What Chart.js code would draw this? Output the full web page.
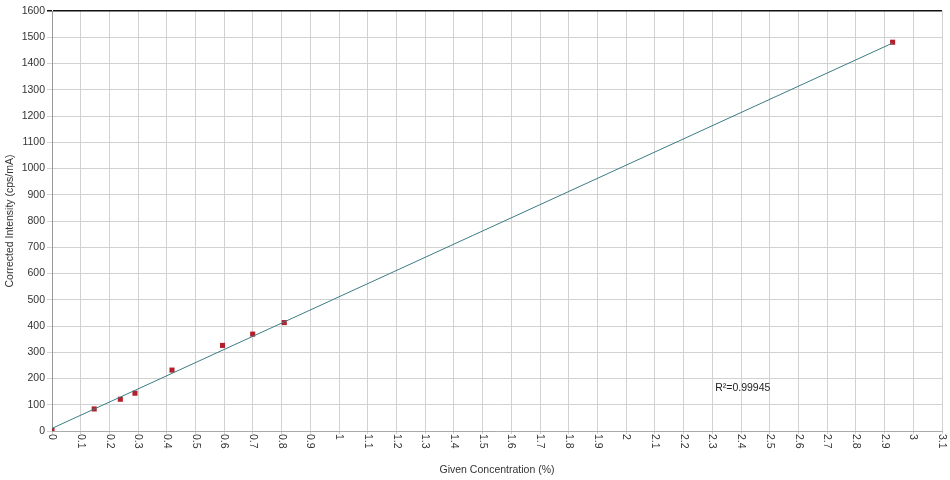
<!DOCTYPE html>
<html>
<head>
<meta charset="utf-8">
<script src="https://cdn.jsdelivr.net/npm/chart.js@4"></script>
<style>
  html, body { margin: 0; padding: 0; background: #fff; }
  canvas { display: block; }
</style>
</head>
<body>
<canvas id="calChart" width="950" height="480"></canvas>
<script>
// measured standards
const concentration = [0, 0.147, 0.238, 0.289, 0.418, 0.594, 0.699, 0.809, 2.928];
const intensity = [2, 84, 121, 144, 232, 326, 369, 413, 1481];

// calibration line end points
const fitX = [0, 2.928];
const fitY = [10, 1478];

const rSquared = 'R²=0.99945';
const xTitle = 'Given Concentration (%)';
const yTitle = 'Corrected Intensity (cps/mA)';

const font = 'Liberation Sans, Arial, sans-serif';

const toPoints = (xs, ys) => xs.map((x, i) => ({ x: x, y: ys[i] }));

const fmtTick = v => String(Number(v.toFixed(1)));

// x tick labels read top to bottom, plus the R² note
const extrasPlugin = {
    id: 'extras',
    afterDraw(chart) {
        const ctx = chart.ctx;
        const xs = chart.scales.x;
        const ys = chart.scales.y;
        ctx.save();
        ctx.fillStyle = '#333';
        ctx.font = '10.5px ' + font;
        ctx.textAlign = 'left';
        ctx.textBaseline = 'middle';
        xs.ticks.forEach(t => {
            const px = xs.getPixelForValue(t.value);
            ctx.save();
            ctx.translate(px, xs.top + 3);
            ctx.rotate(Math.PI / 2);
            ctx.fillText(fmtTick(t.value), 0, 0);
            ctx.restore();
        });
        ctx.fillStyle = '#222';
        ctx.font = '10.5px ' + font;
        ctx.fillText(rSquared, xs.getPixelForValue(2.31), ys.getPixelForValue(164));
        ctx.restore();
    }
};

const ctx = document.getElementById('calChart').getContext('2d');

const calChart = new Chart(ctx, {
    type: 'scatter',
    data: {
        datasets: [{
            label: 'fit',
            type: 'line',
            data: toPoints(fitX, fitY),
            borderColor: '#3b7d84',
            borderWidth: 1,
            pointRadius: 0,
            fill: false
        }, {
            label: 'standards',
            data: toPoints(concentration, intensity),
            backgroundColor: '#b3202b',
            borderColor: '#b3202b',
            pointStyle: 'rect',
            pointRadius: 3.6,
            borderWidth: 0
        }]
    },
    options: {
        responsive: false,
        animation: false,
        devicePixelRatio: 1,
        layout: {
            padding: { top: 11, right: 8, left: 0, bottom: 0 }
        },
        scales: {
            x: {
                type: 'linear',
                min: 0,
                max: 3.1,
                ticks: {
                    display: false,
                    stepSize: 0.1,
                    autoSkip: false
                },
                afterFit(s) { s.height = 49; },
                grid: {
                    color: '#d2d2d2',
                    tickLength: 3
                },
                border: { color: '#aaaaaa' },
                title: {
                    display: true,
                    text: xTitle,
                    color: '#333',
                    font: { family: font, size: 10.5 },
                    padding: { top: 4, bottom: 4 }
                }
            },
            y: {
                min: 0,
                max: 1600,
                ticks: {
                    stepSize: 100,
                    autoSkip: false,
                    color: '#333',
                    padding: 2,
                    font: { family: font, size: 10.5 },
                    callback: v => String(v)
                },
                afterFit(s) { s.width = 52; },
                grid: {
                    color: c => c.tick && c.tick.value === 1600 ? '#111' : '#d2d2d2',
                    lineWidth: c => c.tick && c.tick.value === 1600 ? 1.5 : 1,
                    tickLength: 5
                },
                border: { color: '#999999' },
                title: {
                    display: true,
                    text: yTitle,
                    color: '#333',
                    font: { family: font, size: 10.5 },
                    padding: { top: 4, bottom: 4 }
                }
            }
        },
        plugins: {
            legend: { display: false },
            tooltip: { enabled: false }
        }
    },
    plugins: [extrasPlugin]
});
</script>
</body>
</html>
